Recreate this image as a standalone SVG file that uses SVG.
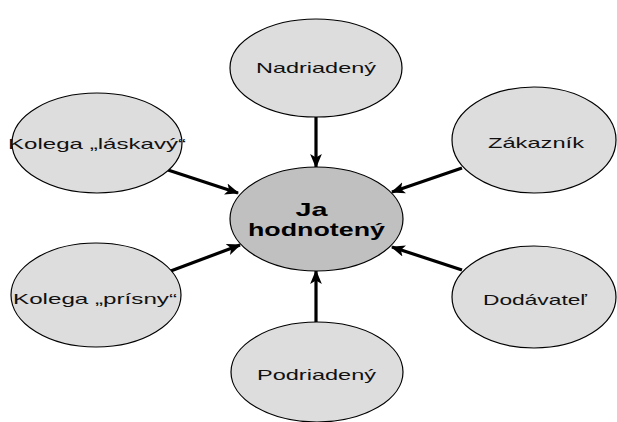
<svg xmlns="http://www.w3.org/2000/svg" width="617" height="422" viewBox="0 0 617 422">
  <style>
    .node { fill: #dddddd; stroke: #000000; stroke-width: 1.2; }
    .core { fill: #c0c0c0; stroke: #000000; stroke-width: 1.2; }
    .lbl { font-family: "Liberation Sans", Arial, sans-serif; font-size: 14.5px; fill: #111111; text-anchor: middle; }
    .big { font-family: "Liberation Sans", Arial, sans-serif; font-size: 19px; font-weight: bold; fill: #000000; text-anchor: middle; }
    .link { stroke: #000000; stroke-width: 3.2; fill: none; marker-end: url(#head); }
  </style>
  <defs>
    <marker id="head" viewBox="0 0 12 10" refX="11" refY="5" markerWidth="4.4" markerHeight="3.8" orient="auto" markerUnits="strokeWidth">
      <path d="M0,0 L12,5 L0,10 L3,5 Z" fill="#000000"/>
    </marker>
  </defs>

  <rect width="617" height="422" fill="#ffffff"/>

  <!-- connectors: every relation points at the person being rated -->
  <g id="connectors">
    <line class="link" x1="316" y1="117" x2="316" y2="167"/>
    <line class="link" x1="316" y1="322" x2="316" y2="271"/>
    <line class="link" x1="168" y1="170" x2="238" y2="193"/>
    <line class="link" x1="168" y1="272" x2="240" y2="245"/>
    <line class="link" x1="462" y1="168" x2="392" y2="192"/>
    <line class="link" x1="462" y1="270" x2="392" y2="247"/>
  </g>

  <g id="ja-hodnoteny">
    <ellipse class="core" cx="316.5" cy="219" rx="86.5" ry="52"/>
    <text class="big" x="311.5" y="216" textLength="32" lengthAdjust="spacingAndGlyphs">Ja</text>
    <text class="big" x="316.5" y="236" textLength="137" lengthAdjust="spacingAndGlyphs">hodnotený</text>
  </g>

  <g id="nadriadeny">
    <ellipse class="node" cx="316" cy="68" rx="86" ry="49"/>
    <text class="lbl" x="316" y="73" textLength="120" lengthAdjust="spacingAndGlyphs">Nadriadený</text>
  </g>

  <g id="zakaznik">
    <ellipse class="node" cx="534" cy="140" rx="82" ry="53"/>
    <text class="lbl" x="536" y="148" textLength="96" lengthAdjust="spacingAndGlyphs">Zákazník</text>
  </g>

  <g id="dodavatel">
    <ellipse class="node" cx="534" cy="297" rx="82" ry="51"/>
    <text class="lbl" x="535" y="305" textLength="104" lengthAdjust="spacingAndGlyphs">Dodávateľ</text>
  </g>

  <g id="podriadeny">
    <ellipse class="node" cx="317" cy="372" rx="86" ry="50"/>
    <text class="lbl" x="316.5" y="380" textLength="119" lengthAdjust="spacingAndGlyphs">Podriadený</text>
  </g>

  <g id="kolega-prisny">
    <ellipse class="node" cx="96" cy="295" rx="85" ry="52"/>
    <text class="lbl" x="95" y="304" textLength="164" lengthAdjust="spacingAndGlyphs">Kolega „prísny“</text>
  </g>

  <g id="kolega-laskavy">
    <ellipse class="node" cx="97" cy="143" rx="85" ry="50"/>
    <text class="lbl" x="97" y="149" textLength="178" lengthAdjust="spacingAndGlyphs">Kolega „láskavý“</text>
  </g>
</svg>
